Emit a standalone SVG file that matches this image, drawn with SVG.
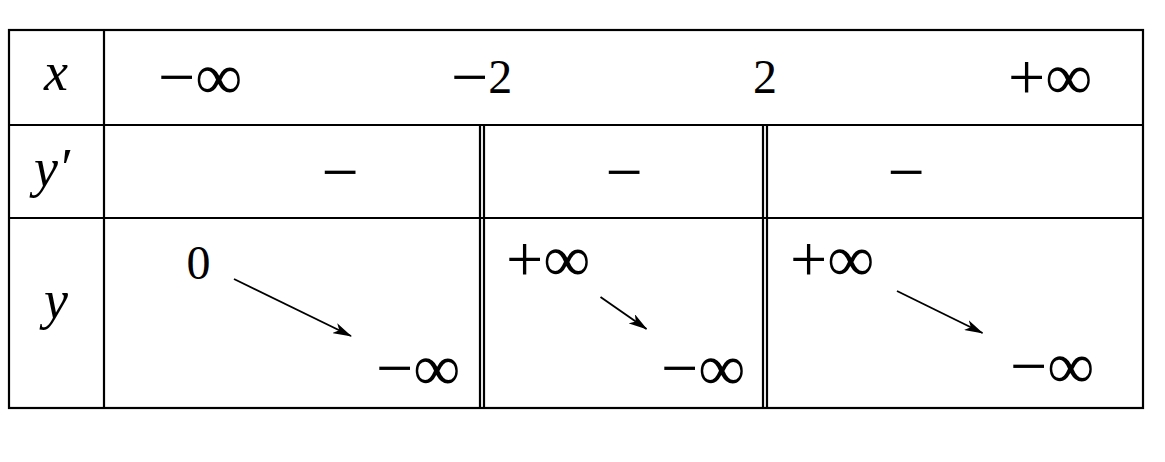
<svg xmlns="http://www.w3.org/2000/svg" width="1165" height="462" viewBox="0 0 1165 462">
<style>
.l{stroke:#000;stroke-width:2.2;fill:none}
.t{font-family:"Liberation Serif","DejaVu Serif",serif;font-size:66px;fill:#000}
.d{font-size:48px}
.i{font-style:italic;font-size:54px}
.a{stroke:#000;stroke-width:1.9;fill:none;marker-end:url(#ah)}
</style>
<defs>
<marker id="ah" viewBox="0 0 19 11" refX="18" refY="5.5" markerWidth="19" markerHeight="11" markerUnits="userSpaceOnUse" orient="auto">
<path d="M0,0 L19,5.5 L0,11 L5,5.5 Z" fill="#000"/>
</marker>
</defs>
<rect width="1165" height="462" fill="#fff"/>
<g id="grid">
<rect class="l" x="9" y="30" width="1134" height="378"/>
<line class="l" x1="104" y1="30" x2="104" y2="408"/>
<line class="l" x1="9" y1="125" x2="1143" y2="125"/>
<line class="l" x1="9" y1="218" x2="1143" y2="218"/>
<line class="l" x1="480" y1="125" x2="480" y2="408"/>
<line class="l" x1="484" y1="125" x2="484" y2="408"/>
<line class="l" x1="763" y1="125" x2="763" y2="408"/>
<line class="l" x1="767" y1="125" x2="767" y2="408"/>
</g>
<g id="labels">
<text class="t i" x="56" y="90" text-anchor="middle">x</text>
<text class="t i" x="52" y="186" text-anchor="middle">y′</text>
<text class="t i" x="56" y="318" text-anchor="middle">y</text>
</g>
<g id="xrow">
<text class="t" x="158" y="99">−∞</text>
<text class="t" x="451" y="99">−<tspan class="d" dy="-6">2</tspan></text>
<text class="t d" x="765" y="93" text-anchor="middle">2</text>
<text class="t" x="1008" y="99">+∞</text>
</g>
<g id="yprime">
<text class="t" x="340" y="194" text-anchor="middle">−</text>
<text class="t" x="624" y="194" text-anchor="middle">−</text>
<text class="t" x="906" y="194" text-anchor="middle">−</text>
</g>
<g id="yrow">
<text class="t d" x="198.5" y="279" text-anchor="middle">0</text>
<text class="t" x="376" y="390">−∞</text>
<text class="t" x="506" y="281">+∞</text>
<text class="t" x="661" y="390">−∞</text>
<text class="t" x="790" y="281">+∞</text>
<text class="t" x="1010" y="388">−∞</text>
</g>
<g id="connectors">
<line class="a" x1="234" y1="279" x2="351" y2="336"/>
<line class="a" x1="600.5" y1="297" x2="646.5" y2="329"/>
<line class="a" x1="897" y1="291" x2="982.5" y2="333"/>
</g>
</svg>
